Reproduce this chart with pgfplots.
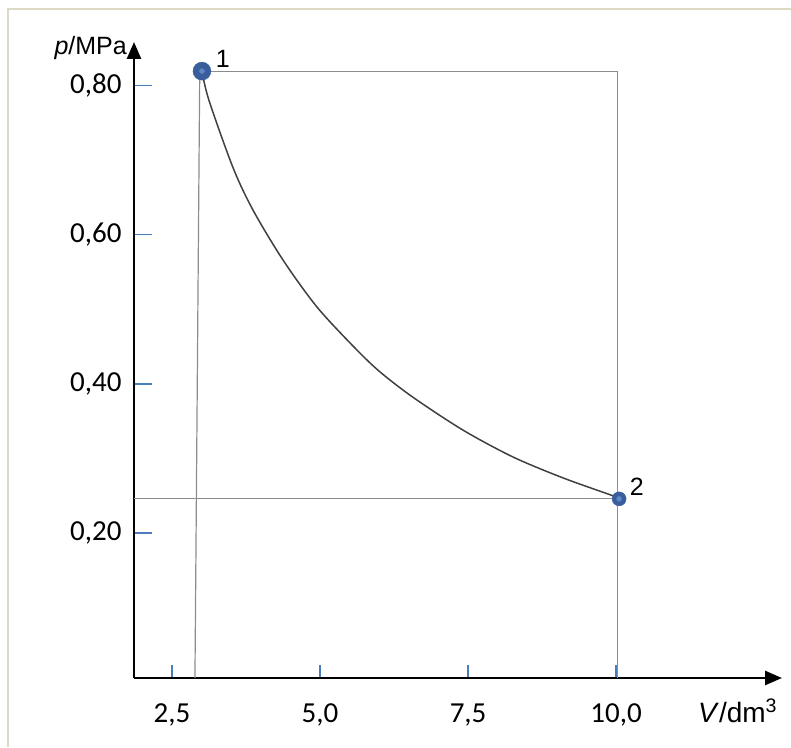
\documentclass[border=0pt]{standalone}
\usepackage{pgfplots}
\pgfplotsset{compat=1.18}
\usepackage{fontspec}
\setmainfont{Liberation Sans}
\newfontfamily\carlito{Carlito}
\usetikzlibrary{arrows.meta}
\definecolor{framec}{RGB}{221,217,195}
\definecolor{tickc}{RGB}{74,126,187}
\definecolor{ptc}{RGB}{58,94,155}
\definecolor{ptin}{RGB}{95,135,200}
\definecolor{guide}{RGB}{140,140,140}
\definecolor{curvec}{RGB}{64,64,64}
\begin{document}
\begin{tikzpicture}[x=1pt,y=1pt]
\useasboundingbox (0,0) rectangle (791,747);
\draw[framec, line width=2pt] (8,0) -- (8,738) -- (792,738);
\begin{axis}[
  at={(134pt,69pt)}, anchor=south west,
  scale only axis, width=648pt, height=636pt,
  xmin=1.86, xmax=12.80, ymin=0.006, ymax=0.858,
  axis lines=left,
  axis line style={line width=2.6pt, black, -{Triangle[length=17pt,width=14pt]}},
  xtick={2.5,5,7.5,10}, xticklabels={{2,5},{5,0},{7,5},{10,0}},
  ytick={0.2,0.4,0.6,0.8}, yticklabels={{0,20},{0,40},{0,60},{0,80}},
  tick align=inside,
  major tick length=18pt,
  xtick style={/pgfplots/major tick length=13pt},
  tick style={tickc, line width=1.4pt},
  ticklabel style={font=\carlito\fontsize{29}{30}\selectfont, text=black},
  xticklabel style={yshift=-22pt},
  yticklabel style={xshift=-9pt},
  clip=false,
]
\addplot[guide, line width=1.2pt] coordinates {(2.97,0.819) (10.02,0.819)};
\addplot[guide, line width=1.2pt] coordinates {(2.97,0.819) (2.889,0.006)};
\addplot[guide, line width=1.2pt] coordinates {(10.02,0.819) (10.02,0.006)};
\addplot[guide, line width=1.2pt] coordinates {(1.86,0.247) (10.02,0.247)};
\addplot[curvec, line width=1.5pt, smooth] coordinates {
(3.007,0.819) (3.125,0.780) (3.530,0.690) (3.868,0.633) (4.375,0.566)
(4.949,0.503) (5.591,0.448) (6.014,0.416) (6.571,0.382) (7.416,0.338)
(8.260,0.302) (9.105,0.274) (9.949,0.250) (10.05,0.246)};
\addplot[only marks, mark=*, mark size=9pt, mark options={fill=ptc, draw=ptc}] coordinates {(3.007,0.819)};
\addplot[only marks, mark=*, mark size=7pt, mark options={fill=ptc, draw=ptc}] coordinates {(10.05,0.246)};
\addplot[only marks, mark=*, mark size=2.5pt, mark options={fill=ptin, draw=ptin}] coordinates {(3.007,0.819) (10.05,0.246)};
\node[font=\fontsize{25}{25}\selectfont] at (axis cs:3.36,0.835) {1};
\node[font=\fontsize{25}{25}\selectfont] at (axis cs:10.35,0.262) {2};
\end{axis}
\node[anchor=base east, font=\fontsize{25}{25}\selectfont, inner sep=0pt] at (127,692) {\textit{p}/MPa};
\node[anchor=base west, font=\fontsize{28}{28}\selectfont, inner sep=0pt] at (698,25) {\textit{V}/dm\textsuperscript{3}};
\end{tikzpicture}
\end{document}
